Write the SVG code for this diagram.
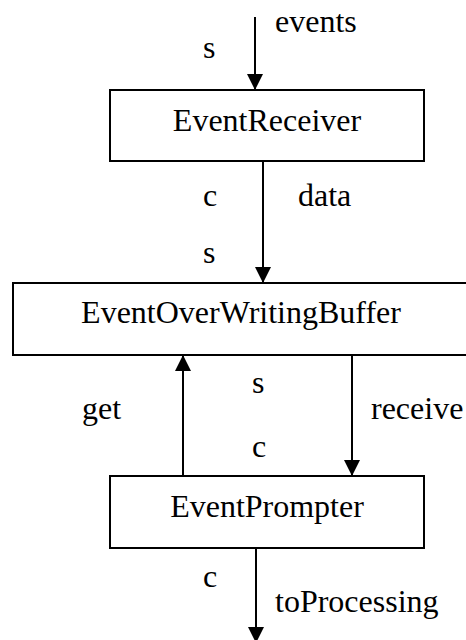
<svg xmlns="http://www.w3.org/2000/svg" width="466" height="640" viewBox="0 0 466 640">
  <style>
    .box { fill: #ffffff; stroke: #000000; stroke-width: 2; }
    text { font-family: 'Times New Roman', 'Liberation Serif', Times, 'DejaVu Serif', serif; font-size: 32px; fill: #000000; }
    .name { text-anchor: middle; }
    .wire { stroke: #000000; stroke-width: 2; fill: none; marker-end: url(#head); }
  </style>
  <defs>
    <marker id="head" markerUnits="userSpaceOnUse" markerWidth="16" markerHeight="16" refX="16" refY="8" orient="auto">
      <path d="M0,0 L16,8 L0,16 Z" fill="#000000"/>
    </marker>
  </defs>
  <rect width="466" height="640" fill="#ffffff"/>

  <g id="EventReceiver">
    <rect class="box" x="110" y="90" width="314" height="71"/>
    <text class="name" x="267" y="131">EventReceiver</text>
  </g>

  <g id="EventOverWritingBuffer">
    <rect class="box" x="13" y="283" width="460" height="72"/>
    <text class="name" x="241" y="323">EventOverWritingBuffer</text>
  </g>

  <g id="EventPrompter">
    <rect class="box" x="110" y="476" width="314" height="72"/>
    <text class="name" x="267" y="517">EventPrompter</text>
  </g>

  <g id="connectors">
    <line class="wire" x1="255" y1="17" x2="255" y2="90"/>
    <line class="wire" x1="263" y1="161" x2="263" y2="283"/>
    <line class="wire" x1="183" y1="476" x2="183" y2="355"/>
    <line class="wire" x1="352" y1="355" x2="352" y2="476"/>
    <line class="wire" x1="256" y1="548" x2="256" y2="643"/>
  </g>

  <g id="labels">
    <text x="275" y="32">events</text>
    <text x="203" y="58">s</text>
    <text x="203" y="206">c</text>
    <text x="298" y="206">data</text>
    <text x="203" y="263">s</text>
    <text x="252" y="393">s</text>
    <text x="82" y="419">get</text>
    <text x="371" y="419">receive</text>
    <text x="252" y="457">c</text>
    <text x="203" y="587">c</text>
    <text x="275" y="612">toProcessing</text>
  </g>
</svg>
